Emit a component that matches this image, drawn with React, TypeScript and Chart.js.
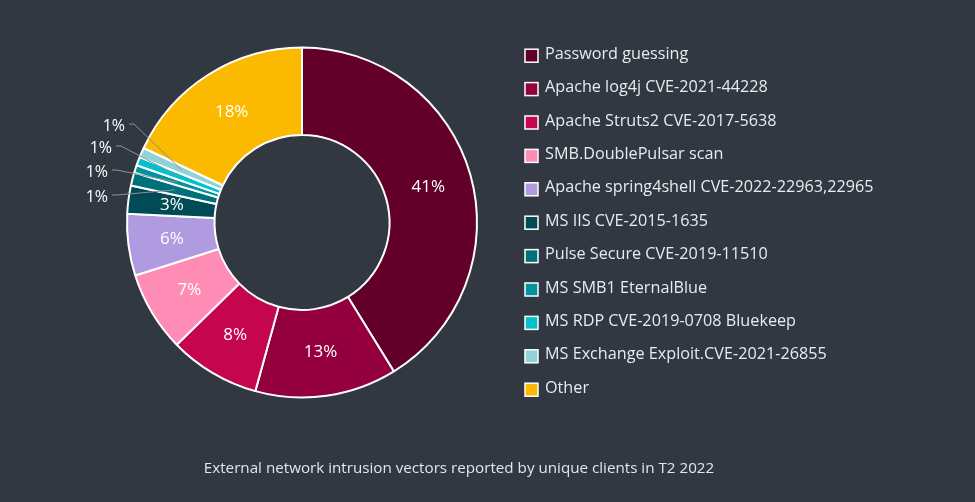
import React, { useEffect, useRef } from "react";
import { Chart, registerables } from "chart.js";

Chart.register(...registerables);

const categories = [
  "Password guessing",
  "Apache log4j CVE-2021-44228",
  "Apache Struts2 CVE-2017-5638",
  "SMB.DoublePulsar scan",
  "Apache spring4shell CVE-2022-22963,22965",
  "MS IIS CVE-2015-1635",
  "Pulse Secure CVE-2019-11510",
  "MS SMB1 EternalBlue",
  "MS RDP CVE-2019-0708 Bluekeep",
  "MS Exchange Exploit.CVE-2021-26855",
  "Other",
];

const shares = [41.2, 13.1, 8.4, 7.4, 5.7, 2.6, 1.2, 0.7, 0.8, 0.9, 18.0];

const sliceColors = [
  "#63002a",
  "#93003d",
  "#c5064f",
  "#ff8cb5",
  "#b09ae0",
  "#004b55",
  "#00707b",
  "#00959e",
  "#00c1cc",
  "#8fd3d7",
  "#fbb900",
];

const caption = "External network intrusion vectors reported by unique clients in T2 2022";

const BG = "#313841";
const FONT = "'Open Sans', 'Noto Sans', sans-serif";
const TEXT = "#e9ebee";

const labelPlugin = {
  id: "sliceLabels",
  afterDatasetsDraw(chart: any) {
    const ctx = chart.ctx as CanvasRenderingContext2D;
    const meta = chart.getDatasetMeta(0);
    const data = chart.data.datasets[0].data as number[];
    ctx.save();
    ctx.textBaseline = "middle";
    let smallIdx = 0;
    // outside label layout (relative to doughnut centre), bottom to top
    const slots = [
      { dx: -194, dy: -25.5 },
      { dx: -194, dy: -50.5 },
      { dx: -190, dy: -74.5 },
      { dx: -177, dy: -96.5 },
    ];
    meta.data.forEach((arc: any, i: number) => {
      const p = arc.getProps(["x", "y", "startAngle", "endAngle", "innerRadius", "outerRadius"], true);
      const mid = (p.startAngle + p.endAngle) / 2;
      const rMid = (p.innerRadius + p.outerRadius) / 2;
      const px = p.x + Math.cos(mid) * rMid;
      const py = p.y + Math.sin(mid) * rMid;
      const txt = Math.round(data[i]) + "%";
      if (data[i] >= 2) {
        ctx.font = "17px " + FONT;
        ctx.fillStyle = "#ffffff";
        ctx.textAlign = "center";
        ctx.fillText(txt, px, py);
      } else {
        const s = slots[smallIdx % slots.length];
        smallIdx++;
        const tx = p.x + s.dx;
        const ty = p.y + s.dy;
        ctx.font = "16px " + FONT;
        ctx.fillStyle = "#ffffff";
        ctx.textAlign = "right";
        ctx.fillText(txt, tx, ty);
        ctx.strokeStyle = "#8c9198";
        ctx.lineWidth = 1;
        ctx.beginPath();
        ctx.moveTo(tx + 4, ty - 2);
        ctx.lineTo(tx + 9, ty - 2);
        ctx.lineTo(px, py);
        ctx.stroke();
      }
    });
    ctx.restore();
  },
  afterDraw(chart: any) {
    const ctx = chart.ctx as CanvasRenderingContext2D;
    ctx.save();
    // legend
    const bx = 525;
    const y0 = 55.7;
    const step = 33.4;
    categories.forEach((name, i) => {
      const cy = y0 + i * step;
      ctx.fillStyle = sliceColors[i];
      ctx.fillRect(bx, cy - 6.5, 13, 13);
      ctx.strokeStyle = "#ffffff";
      ctx.lineWidth = 1.5;
      ctx.strokeRect(bx, cy - 6.5, 13, 13);
      ctx.fillStyle = TEXT;
      ctx.font = "16.2px " + FONT;
      ctx.textAlign = "left";
      ctx.textBaseline = "middle";
      ctx.fillText(name, 545, cy - 1.5);
    });
    // caption
    ctx.font = "15.2px " + FONT;
    ctx.fillStyle = "#e2e5e9";
    ctx.textAlign = "center";
    ctx.textBaseline = "middle";
    ctx.fillText(caption, 459, 469);
    ctx.restore();
  },
};

export default function App() {
  const ref = useRef<HTMLCanvasElement | null>(null);
  useEffect(() => {
    if (!ref.current) return;
    const chart = new Chart(ref.current, {
      type: "doughnut",
      data: {
        labels: categories,
        datasets: [
          {
            data: shares,
            backgroundColor: sliceColors,
            borderColor: "#ffffff",
            borderWidth: 2,
          },
        ],
      },
      options: {
        animation: false,
        responsive: true,
        maintainAspectRatio: false,
        cutout: "50%",
        layout: { padding: { left: 126, top: 46.5, right: 497, bottom: 103.5 } },
        plugins: {
          legend: { display: false },
          tooltip: { enabled: false },
        },
      },
      plugins: [labelPlugin],
    });
    return () => chart.destroy();
  }, []);
  return (
    <div style={{ position: "fixed", left: 0, top: 0, width: 975, height: 502, background: BG }}>
      <canvas ref={ref} />
    </div>
  );
}
